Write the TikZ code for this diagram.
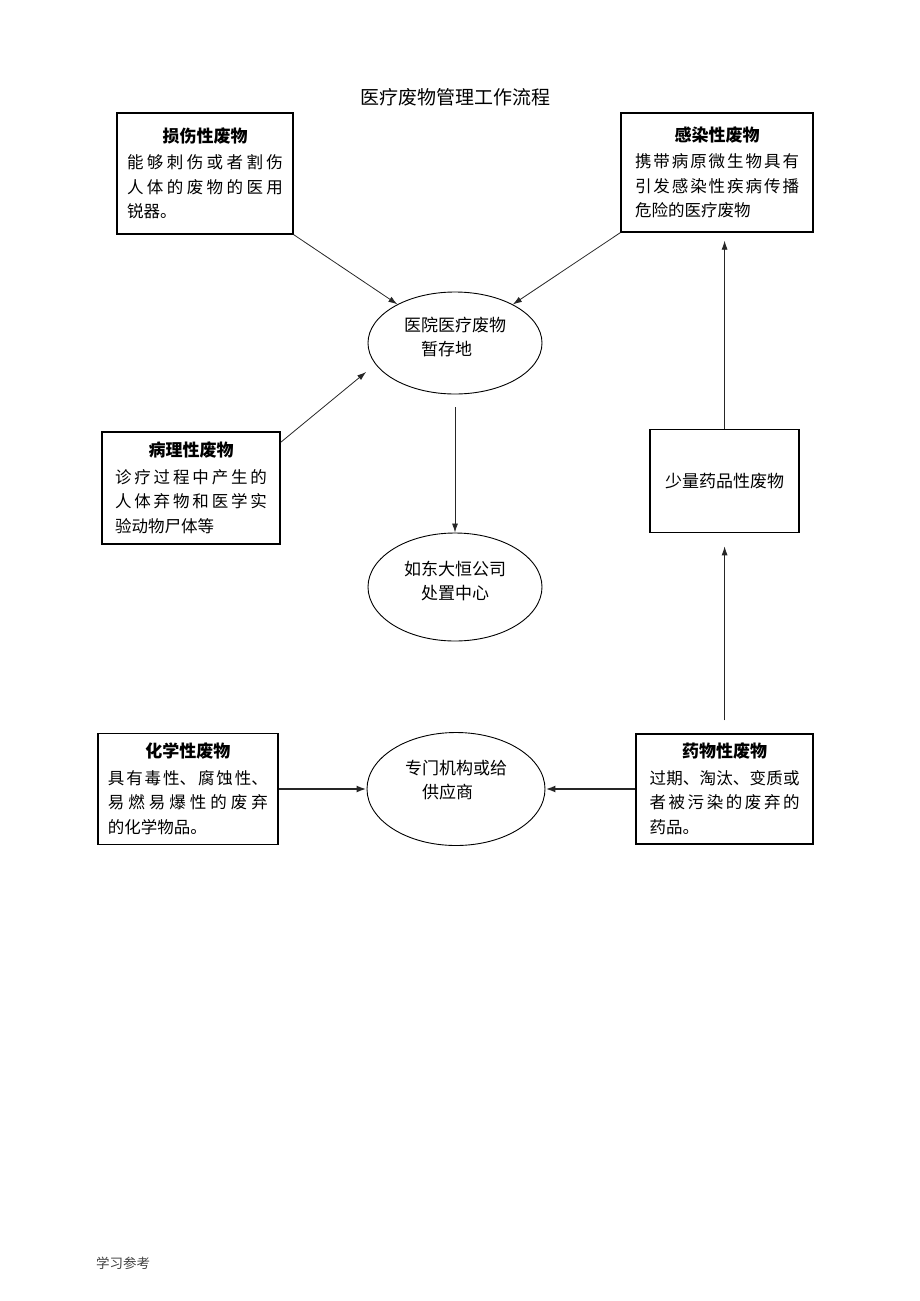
\documentclass[tikz,border=0pt]{standalone}
\usepackage{fontspec}
\setmainfont{Noto Sans CJK SC}
\usetikzlibrary{arrows.meta,shapes.geometric,positioning}
\XeTeXlinebreaklocale "zh"
\XeTeXlinebreakskip=0pt plus 4pt
\setlength\parindent{0pt}
\newcommand\boxtitle[1]{{\centering\bfseries\fontsize{17}{24}\selectfont #1\par}\vspace{2pt}}

\begin{document}
\begin{tikzpicture}[x=1pt,y=-1pt,
        waste box/.style={rectangle,draw,line width=1.3pt,inner xsep=10pt,inner ysep=4pt,
            align=justify,font=\fontsize{16.5}{24.5}\selectfont},
        store node/.style={ellipse,draw,line width=0.9pt,inner sep=0pt,align=left,
            minimum width=174pt,font=\fontsize{17}{24}\selectfont},
        flow/.style={-{Latex[length=9pt,width=6pt]},line width=0.8pt,color=black!85},
        thick flow/.style={flow,line width=2pt,-{Latex[length=10pt,width=7pt]}}]
    \useasboundingbox (0,0) rectangle (920,1301);

    \node[font=\fontsize{19}{22}\selectfont] (title) at (455,97) {医疗废物管理工作流程};

    % waste sources
    \node[waste box,text width=156pt,minimum width=176pt,minimum height=121pt] (sharp) at (205,173.5)
        {\boxtitle{损伤性废物}能够刺伤或者割伤\linebreak 人体的废物的医用\linebreak 锐器。};
    \node[waste box,text width=164pt,minimum width=192pt,minimum height=119pt] (infect) at (717,172.5)
        {\boxtitle{感染性废物}携带病原微生物具有\linebreak 引发感染性疾病传播\linebreak 危险的医疗废物};
    \node[waste box,text width=152pt,minimum width=178pt,minimum height=112pt] (patho) at (191,488)
        {\boxtitle{病理性废物}诊疗过程中产生的\linebreak 人体弃物和医学实\linebreak 验动物尸体等};

    % storage and disposal
    \node[store node,minimum height=102pt,text depth=14pt] (store) at (455,343)
        {医院医疗废物\\\hspace*{1em}暂存地};
    \node[store node,minimum height=108pt,text depth=14pt] (center) at (455,587)
        {如东大恒公司\\\hspace*{1em}处置中心};
    \node[store node,minimum width=178pt,minimum height=113pt,text depth=20pt] (vendor) at (456,789)
        {专门机构或给\\\hspace*{1em}供应商};

    \node[waste box,text width=160pt,minimum width=176pt,minimum height=111pt] (chem) [left=88pt of vendor]
        {\boxtitle{化学性废物}具有毒性、腐蚀性、\linebreak 易燃易爆性的废弃\linebreak 的化学物品。};
    \node[waste box,text width=150pt,minimum width=177pt,minimum height=110pt] (drug) [right=90pt of vendor]
        {\boxtitle{药物性废物}过期、淘汰、变质或\linebreak 者被污染的废弃的\linebreak 药品。};
    \node[rectangle,draw,line width=1.3pt,minimum width=149pt,minimum height=103pt,
        font=\fontsize{17}{24}\selectfont] (small) [above=200pt of drug] {少量药品性废物};

    \node[font=\fontsize{13.5}{16}\selectfont,text=black!75] (footer) at (123,1263) {学习参考};

    \path[flow]
    (sharp.south east) edge (store)
    (infect.south west) edge (store)
    ([yshift=-11pt]patho.north east) edge [shorten >=12pt] (store.195)
    (store) edge [shorten <=13pt] (center)
    (drug) edge [shorten <=13pt,shorten >=13pt] (small)
    (small.north) edge [shorten >=8pt] (small.north |- infect.south)
    (chem) edge [thick flow] (vendor)
    (drug) edge [thick flow] (vendor)
    ;
\end{tikzpicture}
\end{document}
